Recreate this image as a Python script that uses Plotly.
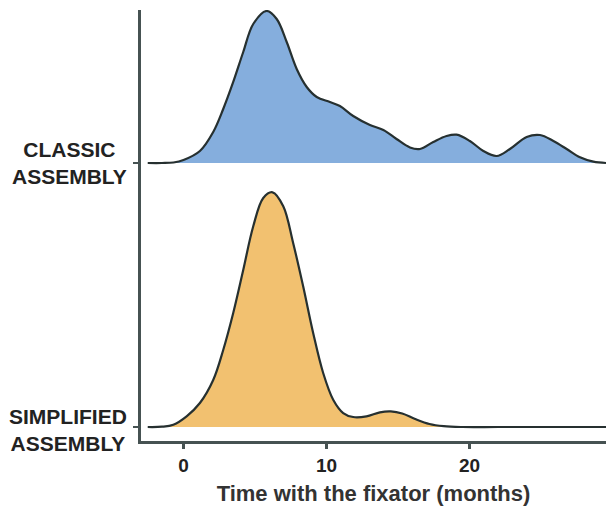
import plotly.graph_objects as go

# Ridge heights are in units of the spacing between the two ridges
RIDGE_SPACING_PX = 264.0

classic_x = [-2.5, -1.5, -0.7, 0.0, 1.15, 2.08, 2.78, 3.48, 4.18, 4.88, 5.82, 6.52, 7.22, 7.92,
             8.62, 9.32, 10.24, 10.94, 11.87, 13.04, 13.98, 14.9, 15.84, 16.54, 17.47, 18.4,
             19.1, 20.03, 20.97, 21.9, 22.83, 24.0, 24.93, 25.87, 26.8, 27.73, 28.67, 29.55]
classic_h = [0, 0, 0.5, 3, 12, 31, 54, 81, 111, 139, 152, 144, 121, 94,
             76, 66, 61, 57, 47, 38, 33, 24, 15.5, 14, 21, 27,
             28.3, 22, 12, 7, 14, 26, 28, 22, 14, 5.7, 1.3, 0]

simplified_x = [-2.5, -1.5, -0.71, 0.22, 1.15, 2.08, 2.78, 3.48, 4.18, 4.88, 5.58, 6.23, 6.98,
                7.67, 8.37, 9.07, 9.77, 10.47, 11.17, 11.87, 12.8, 13.74, 14.5, 15.3, 16.2,
                17.2, 18.2, 19.5, 22.0, 26.0, 29.55]
simplified_h = [0, 0.3, 2.3, 10.7, 24, 47, 77, 114, 157, 200.7, 229, 234.7, 220.7,
                184, 140.7, 94, 54, 27.3, 14, 10, 10.7, 14.7, 15.6, 13.5, 8,
                3, 0.8, 0, 0, 0, 0]

groups = ["SIMPLIFIED<br>ASSEMBLY", "CLASSIC<br>ASSEMBLY"]
offsets = [0, 1]
fills = ["rgb(242,193,112)", "rgb(133,174,221)"]
series_x = [simplified_x, classic_x]
series_h = [simplified_h, classic_h]

x_ticks = [0, 10, 20]
x_tick_labels = ["0", "10", "20"]

LINE = "rgb(38,48,48)"
AXIS = "rgb(70,82,82)"
FONT = "Liberation Sans, Arial, sans-serif"

fig = go.Figure()
for idx in [1, 0]:
    xs = series_x[idx]
    ys = [offsets[idx] + h / RIDGE_SPACING_PX for h in series_h[idx]]
    fig.add_trace(go.Scatter(x=[xs[0], xs[-1]], y=[offsets[idx], offsets[idx]],
                             mode="lines", line=dict(width=0), hoverinfo="skip",
                             showlegend=False))
    fig.add_trace(go.Scatter(x=xs, y=ys, mode="lines",
                             line=dict(color=LINE, width=2.2, shape="spline", smoothing=1.0),
                             fill="tonexty", fillcolor=fills[idx], showlegend=False))

for g, off in zip(groups, offsets):
    fig.add_annotation(text=g, xref="paper", x=0, xshift=-12, xanchor="right",
                       yref="y", y=off, yanchor="middle", yshift=-3 if off == 0 else 0,
                       showarrow=False, align="center",
                       font=dict(family=FONT, size=21, color="#222", weight="bold"))

fig.update_layout(
    width=606, height=518,
    margin=dict(l=141, r=0, t=10, b=77),
    paper_bgcolor="white", plot_bgcolor="white",
    showlegend=False,
    xaxis=dict(range=[-2.97, 29.55], tickvals=x_ticks, ticktext=x_tick_labels,
               showline=True, linecolor=AXIS, linewidth=2.5, ticks="outside",
               ticklen=5, tickwidth=2.5, tickcolor=AXIS, showgrid=False, zeroline=False,
               tickfont=dict(family=FONT, size=19, color="#222", weight="bold"),
               title=dict(text="Time with the fixator (months)", standoff=12,
                          font=dict(family=FONT, size=22, color="#333", weight="bold"))),
    yaxis=dict(range=[-0.053, 1.5795], tickvals=offsets, ticktext=["", ""],
               showline=True, linecolor=AXIS, linewidth=2.5, ticks="outside",
               ticklen=5, tickwidth=2, tickcolor=AXIS, showgrid=False, zeroline=False,
               showticklabels=False),
)

fig.write_html("out.html", config={"displayModeBar": False},
               post_script="document.body.style.margin='0';document.body.style.overflow='hidden';")
